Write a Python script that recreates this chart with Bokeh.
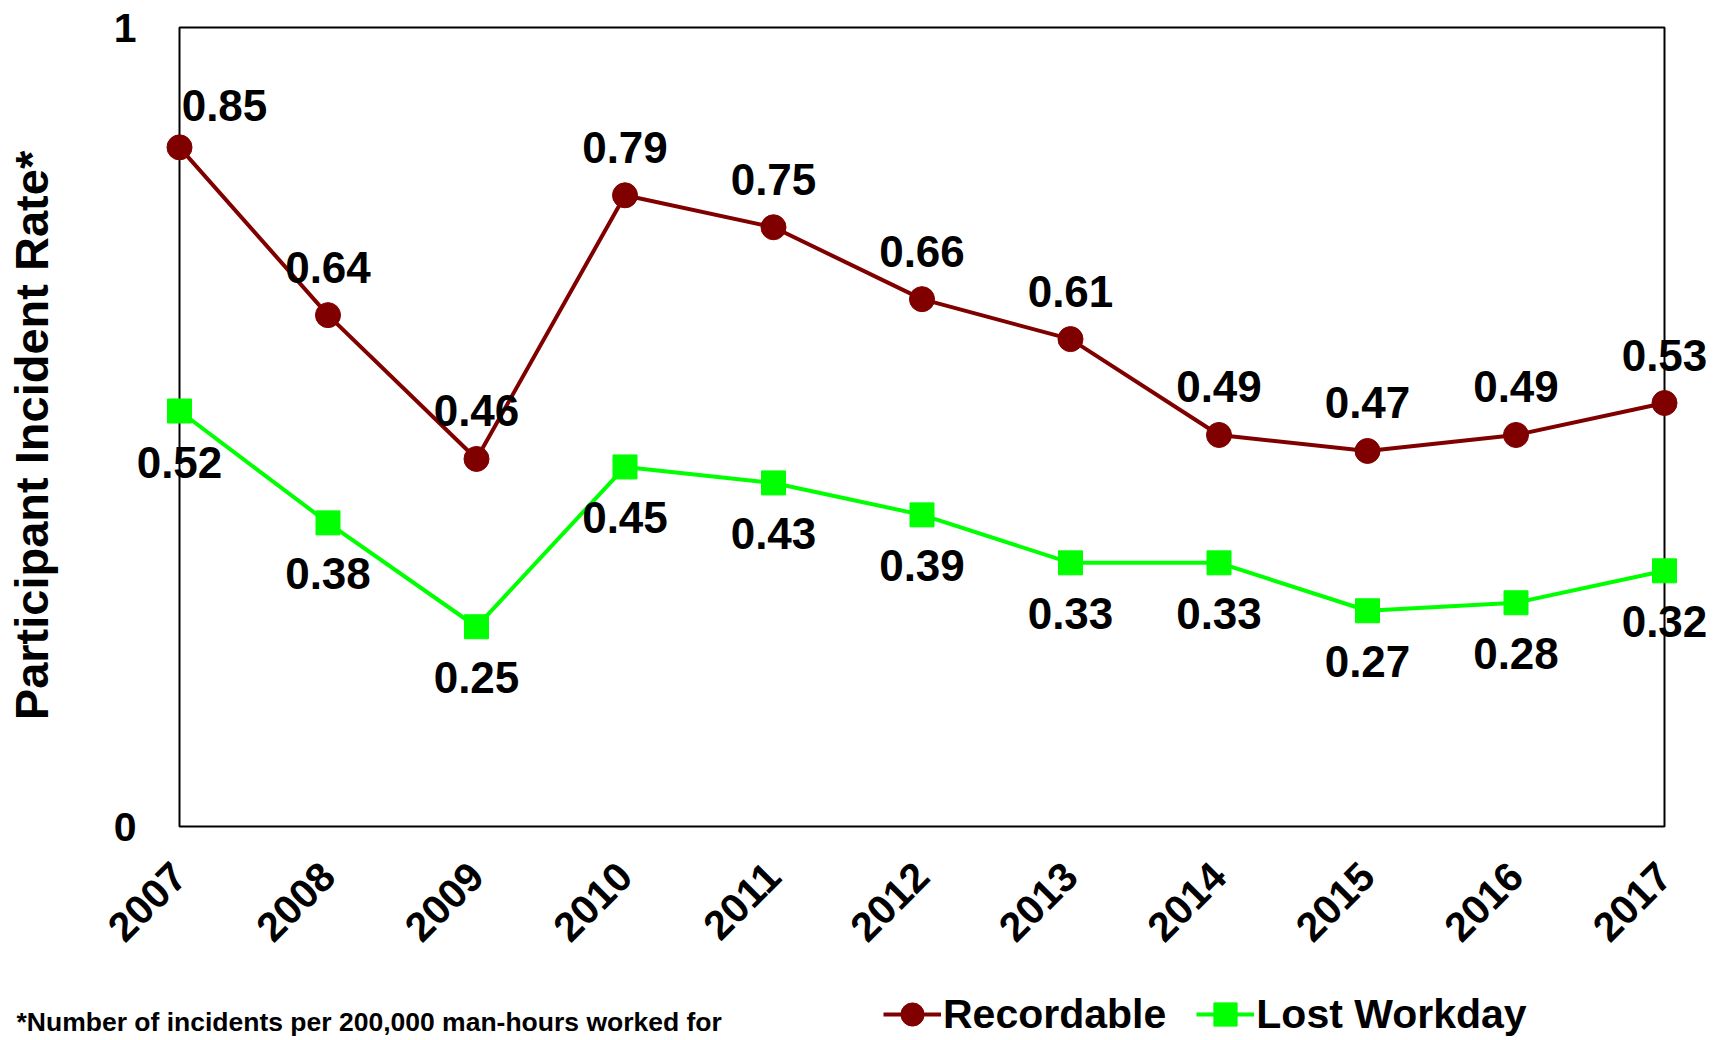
import math
from bokeh.plotting import figure
from bokeh.layouts import column, row
from bokeh.models import (ColumnDataSource, Range1d, FixedTicker, LabelSet, Legend,
                          LegendItem, BoxAnnotation, Label)
from bokeh.core.properties import value
from bokeh.embed import file_html
from bokeh.resources import INLINE

# ---------------- data ----------------
years = [2007, 2008, 2009, 2010, 2011, 2012, 2013, 2014, 2015, 2016, 2017]
recordable = [0.85, 0.64, 0.46, 0.79, 0.75, 0.66, 0.61, 0.49, 0.47, 0.49, 0.53]
lost_workday = [0.52, 0.38, 0.25, 0.45, 0.43, 0.39, 0.33, 0.33, 0.27, 0.28, 0.32]
y_ticks = [0, 1]
series_names = ["Recordable", "Lost Workday"]
y_title = "Participant Incident Rate*"
footnote = "*Number of incidents per 200,000 man-hours worked for"

# ---------------- layout (pixels) ----------------
W, H1, H2 = 1717, 980, 56
W3 = 860                                  # footnote strip width
FL, FR, FT, FB = 130, 1713, 10, 860       # frame edges of the main figure
PX0, PX1 = 179, 1664                      # pixel x of first / last year
PY0, PY1 = 826, 27                        # pixel y of value 0 / value 1
sx = (PX1 - PX0) / (years[-1] - years[0])
sy = (PY0 - PY1) / (y_ticks[-1] - y_ticks[0])
x_start = years[0] + (FL - PX0) / sx
x_end = years[0] + (FR - PX0) / sx
y_start = (PY0 - FB) / sy
y_end = (PY0 - FT) / sy

FONT = "Liberation Sans"
RED = "#800000"
GREEN = "#00FF00"

p = figure(width=W, height=H1, output_backend="svg", toolbar_location=None,
           x_range=Range1d(x_start, x_end), y_range=Range1d(y_start, y_end),
           min_border_left=FL, min_border_right=W - FR,
           min_border_top=FT, min_border_bottom=H1 - FB)
p.outline_line_color = None
p.grid.visible = False
p.background_fill_color = "white"
p.border_fill_color = "white"

# plot box
p.add_layout(BoxAnnotation(left=years[0], right=years[-1], bottom=y_ticks[0], top=y_ticks[-1],
                           fill_alpha=0, line_color="black", line_alpha=1, line_width=2,
                           level="underlay"))

# axes
p.xaxis.ticker = FixedTicker(ticks=years)
p.yaxis.ticker = FixedTicker(ticks=y_ticks)
for ax in (p.xaxis[0], p.yaxis[0]):
    ax.axis_line_color = None
    ax.major_tick_line_color = None
    ax.minor_tick_line_color = None
    ax.major_tick_out = 0
    ax.major_tick_in = 0
    ax.major_label_text_font = FONT
    ax.major_label_text_font_style = "bold"
    ax.major_label_text_color = "black"
p.xaxis.major_label_text_font_size = "41px"
p.yaxis.major_label_text_font_size = "41px"
p.xaxis.major_label_orientation = math.pi / 4
p.xaxis.major_label_standoff = 9
p.yaxis.major_label_standoff = -6
p.yaxis.axis_label = y_title
p.yaxis.axis_label_text_font = FONT
p.yaxis.axis_label_text_font_style = "bold"
p.yaxis.axis_label_text_font_size = "47px"
p.yaxis.axis_label_text_color = "black"
p.yaxis.axis_label_standoff = 53

# series
src = ColumnDataSource(dict(year=years, rec=recordable, lost=lost_workday,
                            rec_txt=[f"{v:.2f}" for v in recordable],
                            lost_txt=[f"{v:.2f}" for v in lost_workday]))
# label nudges (px) for the first Recordable label
src.data["rec_dx"] = [45] + [0] * (len(years) - 1)
src.data["rec_dy"] = [42] + [48] * (len(years) - 1)

r_line = p.line("year", "rec", source=src, line_color=RED, line_width=4)
r_pts = p.scatter("year", "rec", source=src, marker="circle", size=25,
                  fill_color=RED, line_color=RED)
l_line = p.line("year", "lost", source=src, line_color=GREEN, line_width=4)
l_pts = p.scatter("year", "lost", source=src, marker="square", size=24,
                  fill_color=GREEN, line_color=GREEN)

# data labels
lbl_style = dict(text_align="center", text_baseline="middle", text_font=value(FONT),
                 text_font_style="bold", text_font_size="44px", text_color="black")
p.add_layout(LabelSet(x="year", y="rec", text="rec_txt", source=src, x_offset="rec_dx",
                      y_offset="rec_dy", **lbl_style))
p.add_layout(LabelSet(x="year", y="lost", text="lost_txt", source=src,
                      y_offset=-51, **lbl_style))

# ---------------- bottom strip: footnote (left) + legend (right) ----------------
def strip(width):
    f = figure(width=width, height=H2, output_backend="svg", toolbar_location=None,
               x_range=Range1d(0, 1), y_range=Range1d(0, 1),
               x_axis_type=None, y_axis_type=None, min_border=0)
    f.outline_line_color = None
    f.grid.visible = False
    f.background_fill_color = "white"
    f.border_fill_color = "white"
    return f

p3 = strip(W3)
p3.add_layout(Label(x=16, y=15, x_units="screen", y_units="screen",
                    text=footnote, text_font=FONT, text_font_style="bold",
                    text_font_size="26.5px", text_baseline="middle", text_color="black"))

p2 = strip(W - W3)
lr_line = p2.line("year", "rec", source=src, line_color=RED, line_width=4, visible=False)
lr_pts = p2.scatter("year", "rec", source=src, marker="circle", size=25,
                    fill_color=RED, line_color=RED, visible=False)
ll_line = p2.line("year", "lost", source=src, line_color=GREEN, line_width=4, visible=False)
ll_pts = p2.scatter("year", "lost", source=src, marker="square", size=24,
                    fill_color=GREEN, line_color=GREEN, visible=False)

legend = Legend(items=[LegendItem(label=series_names[0], renderers=[lr_line, lr_pts]),
                       LegendItem(label=series_names[1], renderers=[ll_line, ll_pts])],
                location=(23, -11), orientation="horizontal",
                border_line_color=None, background_fill_alpha=0,
                padding=0, margin=0, spacing=30, label_standoff=2,
                glyph_width=58, glyph_height=66, label_height=30,
                label_text_font=FONT, label_text_font_style="bold",
                label_text_font_size="41px", label_text_color="black")
p2.add_layout(legend, "center")

layout = column(p, row(p3, p2, spacing=0), spacing=0)
open("out.html", "w").write(file_html(layout, INLINE))
